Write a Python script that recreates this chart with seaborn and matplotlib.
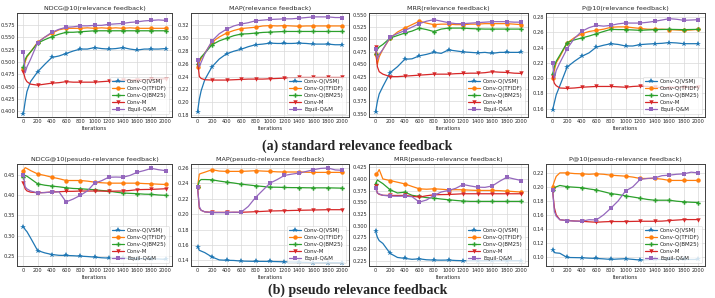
import pandas as pd
import matplotlib.pyplot as plt
import seaborn as sns

iters = [0, 25, 50, 100, 200, 300, 400, 500, 600, 700, 800, 900, 1000,
         1100, 1200, 1300, 1400, 1500, 1600, 1700, 1800, 1900, 2000]

methods = ['Conv-Q(VSM)', 'Conv-Q(TFIDF)', 'Conv-Q(BM25)', 'Conv-M', 'Equil-Q&M']

# (a) standard relevance feedback
ndcg_rel_vsm = [0.395, 0.42, 0.44, 0.46, 0.480, 0.495, 0.509, 0.512, 0.517, 0.522, 0.526, 0.526, 0.529, 0.527, 0.526, 0.527, 0.529, 0.526, 0.524, 0.526, 0.526, 0.526, 0.527]
ndcg_rel_tfidf = [0.485, 0.50, 0.51, 0.52, 0.540, 0.550, 0.558, 0.565, 0.568, 0.568, 0.568, 0.569, 0.568, 0.569, 0.568, 0.569, 0.568, 0.569, 0.568, 0.568, 0.568, 0.568, 0.568]
ndcg_rel_bm25 = [0.49, 0.505, 0.512, 0.52, 0.538, 0.545, 0.551, 0.556, 0.560, 0.560, 0.561, 0.562, 0.563, 0.563, 0.563, 0.563, 0.563, 0.563, 0.563, 0.563, 0.563, 0.563, 0.563]
ndcg_rel_convm = [0.48, 0.466, 0.46, 0.455, 0.453, 0.455, 0.457, 0.458, 0.460, 0.459, 0.459, 0.459, 0.459, 0.460, 0.461, 0.462, 0.463, 0.463, 0.464, 0.464, 0.465, 0.465, 0.466]
ndcg_rel_equil = [0.52, 0.478, 0.49, 0.505, 0.539, 0.550, 0.560, 0.566, 0.570, 0.571, 0.573, 0.573, 0.574, 0.574, 0.576, 0.577, 0.578, 0.580, 0.581, 0.583, 0.584, 0.585, 0.584]

map_rel_vsm = [0.185, 0.205, 0.218, 0.235, 0.255, 0.267, 0.275, 0.279, 0.282, 0.286, 0.289, 0.290, 0.2915, 0.291, 0.291, 0.291, 0.2915, 0.291, 0.290, 0.290, 0.290, 0.289, 0.289]
map_rel_tfidf = [0.255, 0.262, 0.268, 0.276, 0.293, 0.301, 0.307, 0.311, 0.314, 0.315, 0.316, 0.318, 0.3185, 0.318, 0.3185, 0.318, 0.3175, 0.318, 0.318, 0.318, 0.318, 0.318, 0.318]
map_rel_bm25 = [0.26, 0.265, 0.27, 0.276, 0.289, 0.295, 0.299, 0.303, 0.3055, 0.306, 0.307, 0.308, 0.3085, 0.309, 0.3095, 0.3095, 0.3095, 0.3095, 0.3095, 0.3095, 0.3095, 0.3095, 0.3095]
map_rel_convm = [0.265, 0.24, 0.237, 0.235, 0.2345, 0.2345, 0.2345, 0.235, 0.2355, 0.236, 0.236, 0.236, 0.2365, 0.237, 0.2375, 0.238, 0.2385, 0.2385, 0.2385, 0.2385, 0.2385, 0.2385, 0.2385]
map_rel_equil = [0.265, 0.255, 0.262, 0.275, 0.295, 0.306, 0.313, 0.318, 0.321, 0.323, 0.326, 0.327, 0.328, 0.3285, 0.329, 0.329, 0.330, 0.331, 0.332, 0.332, 0.332, 0.331, 0.331]

mrr_rel_vsm = [0.3535, 0.375, 0.39, 0.405, 0.433, 0.445, 0.460, 0.461, 0.467, 0.470, 0.474, 0.472, 0.479, 0.477, 0.475, 0.474, 0.473, 0.474, 0.472, 0.474, 0.474, 0.474, 0.474]
mrr_rel_tfidf = [0.47, 0.45, 0.465, 0.48, 0.503, 0.515, 0.523, 0.530, 0.537, 0.533, 0.530, 0.531, 0.531, 0.530, 0.530, 0.531, 0.531, 0.532, 0.532, 0.532, 0.532, 0.531, 0.530]
mrr_rel_bm25 = [0.47, 0.48, 0.485, 0.49, 0.503, 0.508, 0.513, 0.517, 0.523, 0.520, 0.516, 0.521, 0.523, 0.523, 0.523, 0.522, 0.5215, 0.521, 0.521, 0.521, 0.521, 0.521, 0.521]
mrr_rel_convm = [0.485, 0.445, 0.435, 0.43, 0.425, 0.425, 0.426, 0.427, 0.428, 0.429, 0.430, 0.430, 0.430, 0.431, 0.4315, 0.432, 0.432, 0.433, 0.435, 0.434, 0.4335, 0.432, 0.4315]
mrr_rel_equil = [0.48, 0.46, 0.47, 0.48, 0.505, 0.512, 0.518, 0.525, 0.532, 0.537, 0.540, 0.537, 0.534, 0.532, 0.532, 0.533, 0.534, 0.535, 0.536, 0.536, 0.536, 0.535, 0.535]

p10_rel_vsm = [0.158, 0.168, 0.178, 0.19, 0.2145, 0.222, 0.2285, 0.233, 0.2405, 0.243, 0.245, 0.244, 0.242, 0.242, 0.2438, 0.2445, 0.245, 0.2455, 0.2465, 0.246, 0.245, 0.245, 0.245]
p10_rel_tfidf = [0.20, 0.21, 0.22, 0.228, 0.246, 0.253, 0.258, 0.261, 0.2625, 0.264, 0.2665, 0.267, 0.267, 0.266, 0.265, 0.264, 0.2638, 0.264, 0.2634, 0.263, 0.2625, 0.263, 0.2638]
p10_rel_bm25 = [0.205, 0.215, 0.222, 0.23, 0.2464, 0.250, 0.2525, 0.255, 0.258, 0.261, 0.2638, 0.2635, 0.2634, 0.263, 0.2625, 0.263, 0.2634, 0.2636, 0.2638, 0.2636, 0.2634, 0.2636, 0.2638]
p10_rel_convm = [0.202, 0.193, 0.19, 0.187, 0.1865, 0.187, 0.188, 0.1885, 0.189, 0.189, 0.189, 0.1885, 0.188, 0.189, 0.1895, 0.189, 0.188, 0.1875, 0.1875, 0.188, 0.188, 0.188, 0.188]
p10_rel_equil = [0.22, 0.20, 0.21, 0.22, 0.2385, 0.252, 0.2612, 0.266, 0.269, 0.268, 0.269, 0.271, 0.2721, 0.272, 0.272, 0.273, 0.2743, 0.276, 0.2778, 0.277, 0.2756, 0.276, 0.2765]

# (b) pseudo relevance feedback
ndcg_pse_vsm = [0.3226, 0.315, 0.31, 0.295, 0.2637, 0.258, 0.254, 0.252, 0.2516, 0.251, 0.250, 0.249, 0.2476, 0.246, 0.2452, 0.2452, 0.2452, 0.244, 0.2435, 0.2435, 0.2435, 0.243, 0.242]
ndcg_pse_tfidf = [0.46, 0.467, 0.465, 0.46, 0.4516, 0.448, 0.4435, 0.440, 0.4355, 0.4355, 0.4355, 0.434, 0.4315, 0.430, 0.429, 0.429, 0.429, 0.429, 0.429, 0.428, 0.4274, 0.4265, 0.4258]
ndcg_pse_bm25 = [0.445, 0.448, 0.446, 0.44, 0.4274, 0.424, 0.4218, 0.420, 0.4177, 0.416, 0.4153, 0.414, 0.4129, 0.411, 0.4097, 0.407, 0.4048, 0.404, 0.4032, 0.402, 0.4016, 0.400, 0.3992]
ndcg_pse_convm = [0.43, 0.415, 0.41, 0.407, 0.4056, 0.406, 0.4073, 0.408, 0.4089, 0.409, 0.4097, 0.4097, 0.4097, 0.4095, 0.409, 0.4095, 0.4097, 0.411, 0.413, 0.4135, 0.4137, 0.4145, 0.4153]
ndcg_pse_equil = [0.45, 0.42, 0.415, 0.41, 0.4048, 0.406, 0.407, 0.408, 0.383, 0.39, 0.399, 0.41, 0.429, 0.435, 0.4435, 0.444, 0.4435, 0.448, 0.4556, 0.46, 0.4653, 0.462, 0.4597]

map_pse_vsm = [0.1574, 0.153, 0.152, 0.150, 0.1443, 0.1405, 0.140, 0.1398, 0.139, 0.1388, 0.1386, 0.1386, 0.1385, 0.1383, 0.138, 0.1378, 0.1375, 0.1373, 0.137, 0.137, 0.137, 0.137, 0.1369]
map_pse_tfidf = [0.235, 0.252, 0.253, 0.2545, 0.2578, 0.256, 0.2556, 0.2556, 0.2556, 0.256, 0.2565, 0.256, 0.2556, 0.255, 0.2548, 0.2548, 0.2548, 0.2545, 0.2543, 0.2543, 0.2543, 0.2543, 0.2543]
map_pse_bm25 = [0.235, 0.243, 0.245, 0.245, 0.2447, 0.243, 0.2417, 0.2405, 0.239, 0.238, 0.2369, 0.236, 0.2351, 0.235, 0.2347, 0.2345, 0.2345, 0.2343, 0.2342, 0.2342, 0.2342, 0.234, 0.2338]
map_pse_convm = [0.235, 0.208, 0.205, 0.203, 0.2024, 0.2024, 0.2024, 0.2024, 0.2024, 0.2028, 0.2032, 0.2036, 0.2041, 0.2043, 0.2045, 0.2048, 0.205, 0.2052, 0.2054, 0.2056, 0.2058, 0.2058, 0.2058]
map_pse_equil = [0.235, 0.21, 0.205, 0.203, 0.2019, 0.202, 0.2019, 0.2025, 0.2024, 0.21, 0.2216, 0.231, 0.2403, 0.245, 0.2504, 0.252, 0.2534, 0.2555, 0.2578, 0.2595, 0.26, 0.2575, 0.257]

mrr_pse_vsm = [0.2881, 0.275, 0.268, 0.262, 0.2406, 0.232, 0.230, 0.228, 0.229, 0.227, 0.2264, 0.2262, 0.2264, 0.2255, 0.225, 0.225, 0.225, 0.225, 0.225, 0.225, 0.225, 0.225, 0.225]
mrr_pse_tfidf = [0.41, 0.413, 0.42, 0.40, 0.3966, 0.393, 0.3895, 0.384, 0.3789, 0.378, 0.3789, 0.378, 0.3768, 0.377, 0.3768, 0.376, 0.3754, 0.3754, 0.3754, 0.375, 0.374, 0.373, 0.3718]
mrr_pse_bm25 = [0.39, 0.398, 0.395, 0.39, 0.3768, 0.370, 0.3718, 0.365, 0.3626, 0.360, 0.359, 0.357, 0.3555, 0.354, 0.3527, 0.352, 0.352, 0.352, 0.352, 0.352, 0.352, 0.352, 0.352]
mrr_pse_convm = [0.385, 0.37, 0.367, 0.365, 0.3647, 0.3647, 0.3647, 0.363, 0.3612, 0.364, 0.3661, 0.3665, 0.3668, 0.3675, 0.3683, 0.3683, 0.3683, 0.3683, 0.3683, 0.3683, 0.3683, 0.3683, 0.3683]
mrr_pse_equil = [0.38, 0.37, 0.368, 0.365, 0.3633, 0.363, 0.3633, 0.362, 0.3505, 0.355, 0.3647, 0.372, 0.3754, 0.38, 0.3881, 0.385, 0.3824, 0.382, 0.385, 0.395, 0.4037, 0.40, 0.3966]

p10_pse_vsm = [0.11, 0.106, 0.1055, 0.105, 0.099, 0.0988, 0.0986, 0.098, 0.0976, 0.097, 0.0962, 0.0968, 0.0972, 0.0963, 0.0953, 0.0958, 0.0962, 0.0962, 0.0962, 0.0962, 0.0962, 0.0962, 0.0962]
p10_pse_tfidf = [0.20, 0.208, 0.215, 0.22, 0.22, 0.219, 0.2186, 0.218, 0.2186, 0.218, 0.2167, 0.216, 0.2153, 0.214, 0.212, 0.212, 0.212, 0.211, 0.2092, 0.2092, 0.2092, 0.2092, 0.2092]
p10_pse_bm25 = [0.195, 0.198, 0.200, 0.202, 0.2002, 0.1995, 0.1988, 0.197, 0.1955, 0.193, 0.1904, 0.189, 0.1871, 0.1855, 0.1838, 0.182, 0.1809, 0.1809, 0.1809, 0.1795, 0.1786, 0.178, 0.1776]
p10_pse_convm = [0.195, 0.17, 0.16, 0.153, 0.1518, 0.1512, 0.1508, 0.150, 0.1494, 0.150, 0.1504, 0.1504, 0.1504, 0.1506, 0.1508, 0.1508, 0.1508, 0.151, 0.1518, 0.1525, 0.1532, 0.1532, 0.1532]
p10_pse_equil = [0.195, 0.165, 0.158, 0.153, 0.1518, 0.151, 0.1508, 0.153, 0.1527, 0.16, 0.1696, 0.18, 0.1941, 0.20, 0.2106, 0.212, 0.2129, 0.216, 0.2167, 0.218, 0.2186, 0.221, 0.22]

titles = ['NDCG@10(relevance feedback)', 'MAP(relevance feedback)',
          'MRR(relevance feedback)', 'P@10(relevance feedback)',
          'NDCG@10(pesudo-relevance feedback)', 'MAP(pesudo-relevance feedback)',
          'MRR(pesudo-relevance feedback)', 'P@10(pesudo-relevance feedback)']

panels = [
    [ndcg_rel_vsm, ndcg_rel_tfidf, ndcg_rel_bm25, ndcg_rel_convm, ndcg_rel_equil],
    [map_rel_vsm, map_rel_tfidf, map_rel_bm25, map_rel_convm, map_rel_equil],
    [mrr_rel_vsm, mrr_rel_tfidf, mrr_rel_bm25, mrr_rel_convm, mrr_rel_equil],
    [p10_rel_vsm, p10_rel_tfidf, p10_rel_bm25, p10_rel_convm, p10_rel_equil],
    [ndcg_pse_vsm, ndcg_pse_tfidf, ndcg_pse_bm25, ndcg_pse_convm, ndcg_pse_equil],
    [map_pse_vsm, map_pse_tfidf, map_pse_bm25, map_pse_convm, map_pse_equil],
    [mrr_pse_vsm, mrr_pse_tfidf, mrr_pse_bm25, mrr_pse_convm, mrr_pse_equil],
    [p10_pse_vsm, p10_pse_tfidf, p10_pse_bm25, p10_pse_convm, p10_pse_equil],
]

yticks = [
    [0.400, 0.425, 0.450, 0.475, 0.500, 0.525, 0.550, 0.575],
    [0.18, 0.20, 0.22, 0.24, 0.26, 0.28, 0.30, 0.32],
    [0.350, 0.375, 0.400, 0.425, 0.450, 0.475, 0.500, 0.525, 0.550],
    [0.16, 0.18, 0.20, 0.22, 0.24, 0.26, 0.28],
    [0.25, 0.30, 0.35, 0.40, 0.45],
    [0.14, 0.16, 0.18, 0.20, 0.22, 0.24, 0.26],
    [0.225, 0.250, 0.275, 0.300, 0.325, 0.350, 0.375, 0.400, 0.425],
    [0.10, 0.12, 0.14, 0.16, 0.18, 0.20, 0.22],
]
ylims = [(0.3885, 0.599), (0.1775, 0.338), (0.3435, 0.5535), (0.149, 0.2852),
         (0.2258, 0.476), (0.1326, 0.2652), (0.2137, 0.432), (0.0868, 0.2327)]
ytick_fmt = ['%.3f', '%.2f', '%.3f', '%.2f', '%.2f', '%.2f', '%.3f', '%.2f']

colors = sns.color_palette('tab10', 5)
markers = ['*', 'o', 'P', 'v', 's']
mark_idx = [i for i, it in enumerate(iters) if it % 200 == 0]

sns.set_style('whitegrid')
plt.rcParams['axes.edgecolor'] = '0.25'
plt.rcParams['axes.linewidth'] = 0.7
plt.rcParams['grid.color'] = '0.85'
plt.rcParams['grid.linewidth'] = 0.5

fig = plt.figure(figsize=(7.15, 2.98), dpi=100)
W, H = 715, 298
lefts = [17, 191, 369, 546]
rights = [172, 349, 528, 705]
rows = [(13, 117), (164, 266)]

for k in range(8):
    r, c = divmod(k, 4)
    top, bot = rows[r]
    ax = fig.add_axes([lefts[c] / W, 1 - bot / H, (rights[c] - lefts[c]) / W, (bot - top) / H])
    for j in range(5):
        sns.lineplot(x=iters, y=panels[k][j], ax=ax, color=colors[j], label=methods[j],
                     marker=markers[j], markersize=3.2 if markers[j] != '*' else 4,
                     markevery=mark_idx, linewidth=0.9, markeredgewidth=0)
    ax.set_xlim(-90, 2090)
    ax.set_ylim(*ylims[k])
    ax.set_xticks(range(0, 2001, 200))
    ax.set_yticks(yticks[k])
    ax.set_yticklabels([ytick_fmt[k] % v for v in yticks[k]])
    ax.tick_params(axis='x', labelsize=3.6, pad=1.5, length=0)
    ax.tick_params(axis='y', labelsize=3.7, pad=1.2, length=0)
    ax.set_title(titles[k], fontsize=4.6, pad=2.5)
    ax.set_xlabel('Iterations', fontsize=3.8, labelpad=1.5)
    ax.set_ylabel('')
    leg = ax.legend(loc='lower right', fontsize=4.0, frameon=True, handlelength=2.2,
                    borderpad=0.4, labelspacing=0.35, handletextpad=0.5)
    leg.get_frame().set_linewidth(0.4)
    for s in ax.spines.values():
        s.set_visible(True)

fig.text(0.5, 1 - 146 / H, '(a) standard relevance feedback', ha='center', va='center',
         fontsize=10, fontweight='bold', family='Liberation Serif')
fig.text(0.5, 1 - 297 / H, '(b) pseudo relevance feedback', ha='center', va='bottom',
         fontsize=10, fontweight='bold', family='Liberation Serif')

fig.savefig('out.png', dpi=100)
